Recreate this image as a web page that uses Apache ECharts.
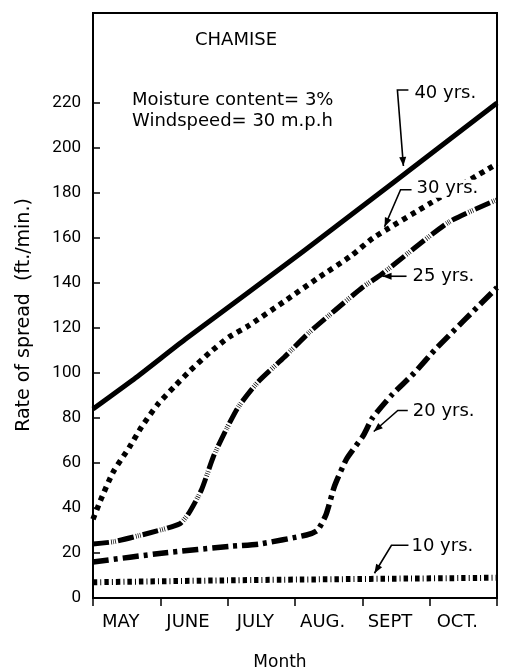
<!DOCTYPE html>
<html><head><meta charset="utf-8">
<script src="https://cdn.jsdelivr.net/npm/echarts@6/dist/echarts.min.js"></script>
<style>html,body{margin:0;padding:0;background:#fff}#c{width:510px;height:670px}</style>
</head><body><div id="c"></div>
<script>
// ---- data (x = months elapsed since start of May, y = rate of spread ft./min.) ----
const months = ['MAY', 'JUNE', 'JULY', 'AUG.', 'SEPT', 'OCT.'];
const yTicks = [0, 20, 40, 60, 80, 100, 120, 140, 160, 180, 200, 220];

const age40X = [0, 0.64, 1.37, 3.12, 6];
const age40Y = [84, 98, 115, 154, 220];

const age30X = [0, 0.12, 0.30, 0.54, 0.72, 0.96, 1.21, 1.44, 1.73, 2.02, 2.31, 2.85, 3.33, 3.83, 4.16, 5.04, 6];
const age30Y = [35, 44, 56, 67, 76, 86, 94, 101, 109, 116, 121, 132, 142, 152, 160, 176, 193];

const age25X = [0, 0.30, 0.85, 1.29, 1.43, 1.61, 1.79, 1.98, 2.16, 2.45, 2.84, 3.21, 3.60, 4.00, 4.29, 5.28, 6];
const age25Y = [24, 25, 29, 33, 38, 48, 63, 75, 85, 96, 107, 118, 128, 138, 144, 167, 177];

const age20X = [0, 1.05, 2.05, 2.47, 3.17, 3.33, 3.46, 3.59, 3.77, 4.01, 4.15, 4.43, 4.77, 5.10, 6];
const age20Y = [16, 20, 23, 24, 28, 30, 37, 50, 62, 72, 80, 90, 100, 111, 138];

const age10X = [0, 2.4, 6];
const age10Y = [7, 8, 9];

const ageLabels = ['40 yrs.', '30 yrs.', '25 yrs.', '20 yrs.', '10 yrs.'];

// ---- styling / layout ----
const FONT = '"DejaVu Sans"';
const NUMFONT = 'Roboto';
const zip = (xs, ys) => xs.map((x, i) => [x, ys[i]]);

const chart = echarts.init(document.getElementById('c'), null, { renderer: 'canvas' });

function line(name, xs, ys, width, dash) {
  return {
    name, type: 'line', xAxisIndex: 0, yAxisIndex: 0,
    data: zip(xs, ys), showSymbol: false, smooth: 0.2, silent: true,
    lineStyle: { color: '#000', width, type: dash, cap: 'butt', join: 'round' },
    z: 3
  };
}

chart.setOption({
  animation: false,
  backgroundColor: '#fff',
  grid: {
    left: 93, right: 13, top: 13, bottom: 72, containLabel: false, outerBoundsMode: 'none',
    show: true, borderColor: '#000', borderWidth: 2
  },
  xAxis: [
    {
      type: 'value', min: 0, max: 6, interval: 1,
      axisLine: { show: true, lineStyle: { color: '#000', width: 2 } },
      axisTick: { show: true, inside: false, length: 8, lineStyle: { color: '#000', width: 1.5 } },
      axisLabel: { show: false },
      splitLine: { show: false },
      name: 'Month', nameLocation: 'middle', nameGap: 56,
      nameTextStyle: { fontFamily: FONT, fontSize: 17, color: '#000', padding: [0, 30, 0, 0] }
    },
    {
      type: 'category', data: months, boundaryGap: true, position: 'bottom',
      axisLine: { show: false }, axisTick: { show: false }, splitLine: { show: false },
      axisLabel: { fontFamily: FONT, fontSize: 18, color: '#000', margin: 15, padding: [0, 12, 0, 0] }
    }
  ],
  yAxis: {
    type: 'value', min: 0, max: 260, interval: 20,
    axisLine: { show: true, lineStyle: { color: '#000', width: 2 } },
    axisTick: { show: true, inside: true, length: 7, customValues: yTicks, lineStyle: { color: '#000', width: 1.5 } },
    axisLabel: { customValues: yTicks, fontFamily: NUMFONT, fontSize: 17, color: '#000', margin: 12 },
    splitLine: { show: false }
  },
  series: [
    line(ageLabels[0], age40X, age40Y, 5, 'solid'),
    line(ageLabels[1], age30X, age30Y, 5.5, [5, 5]),
    line(ageLabels[2], age25X, age25Y, 5, [16, 2.2, 0.7, 1.4, 0.7, 1.4, 0.7, 2.2]),
    line(ageLabels[3], age20X, age20Y, 5.5, [16, 5, 4, 5]),
    line(ageLabels[4], age10X, age10Y, 6, [4.5, 3, 1, 3])
  ]
});

// ---- annotations: arrow tip anchored to data coords, leader/label offsets in px ----
const notes = [
  { label: ageLabels[0], tip: [4.61, 192], path: [[-6, -76], [5, -76]], text: [11, -73], bg: null },
  { label: ageLabels[1], tip: [4.33, 165], path: [[16, -37], [27, -37]], text: [30, -38], bg: '#fff' },
  { label: ageLabels[2], tip: [4.30, 143], path: [[24, 0]], text: [30, 0], bg: null },
  { label: ageLabels[3], tip: [4.17, 74], path: [[24, -21], [34, -21]], text: [39, -20], bg: null },
  { label: ageLabels[4], tip: [4.18, 11], path: [[17, -28], [34, -28]], text: [37, -27], bg: null }
];

const graphics = [
  { type: 'text', x: 195, y: 40, style: { text: 'CHAMISE', font: '18px ' + FONT, fill: '#000', verticalAlign: 'middle' } },
  { type: 'text', x: 132, y: 100, style: { text: 'Moisture content= 3%', font: '18px ' + FONT, fill: '#000', verticalAlign: 'middle' } },
  { type: 'text', x: 132, y: 121, style: { text: 'Windspeed= 30 m.p.h', font: '18px ' + FONT, fill: '#000', verticalAlign: 'middle' } },
  { type: 'text', x: 24, y: 315, rotation: Math.PI / 2,
    style: { text: 'Rate of spread  (ft./min.)', font: '19px ' + FONT, fill: '#000', align: 'center', verticalAlign: 'middle' } }
];

notes.forEach(n => {
  const [tx, ty] = chart.convertToPixel({ xAxisIndex: 0, yAxisIndex: 0 }, n.tip);
  const pts = [[tx, ty]].concat(n.path.map(p => [tx + p[0], ty + p[1]])).reverse();
  if (n.bg) {
    graphics.push({
      type: 'text', x: tx + n.text[0], y: ty + n.text[1],
      style: { text: n.label, font: '18px ' + FONT, fill: '#000', verticalAlign: 'middle', backgroundColor: n.bg, padding: [0, 2, 0, 2] }, z: 9
    });
  }
  graphics.push({ type: 'polyline', shape: { points: pts }, style: { stroke: '#000', lineWidth: 1.6, fill: null }, z: 10 });
  const a = pts[pts.length - 2], b = pts[pts.length - 1];
  const dx = b[0] - a[0], dy = b[1] - a[1], L = Math.hypot(dx, dy);
  const ux = dx / L, uy = dy / L, hl = 9, hw = 3.5;
  graphics.push({
    type: 'polygon',
    shape: { points: [[b[0], b[1]], [b[0] - ux * hl - uy * hw, b[1] - uy * hl + ux * hw], [b[0] - ux * hl + uy * hw, b[1] - uy * hl - ux * hw]] },
    style: { fill: '#000' }, z: 10
  });
  if (!n.bg) {
    graphics.push({
      type: 'text', x: tx + n.text[0], y: ty + n.text[1],
      style: { text: n.label, font: '18px ' + FONT, fill: '#000', verticalAlign: 'middle' }, z: 10
    });
  }
});

chart.setOption({ graphic: graphics });
</script>
</body></html>
